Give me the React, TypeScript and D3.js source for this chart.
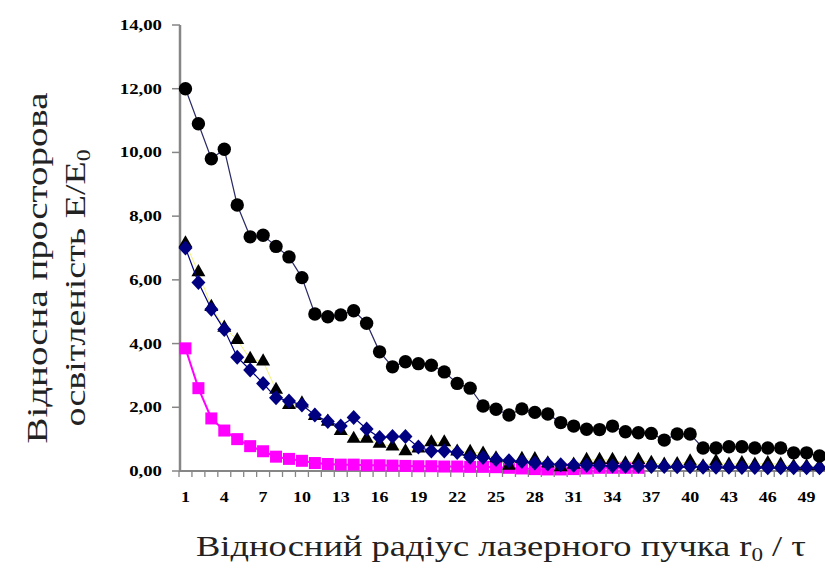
import * as d3 from 'd3';
import { useEffect, useRef } from 'react';

const categories = d3.range(1, 51);

const circles = [
  12.0, 10.9, 9.8, 10.1, 8.35, 7.35, 7.4, 7.05, 6.72, 6.07,
  4.93, 4.84, 4.9, 5.03, 4.64, 3.74, 3.27, 3.43, 3.37, 3.32,
  3.11, 2.75, 2.6, 2.04, 1.94, 1.76, 1.95, 1.84, 1.79, 1.52,
  1.41, 1.31, 1.3, 1.41, 1.23, 1.2, 1.18, 0.97, 1.16, 1.16,
  0.72, 0.72, 0.76, 0.76, 0.72, 0.72, 0.72, 0.57, 0.57, 0.47,
];

const diamonds = [
  7.0, 5.92, 5.08, 4.44, 3.57, 3.17, 2.75, 2.3, 2.2, 2.07,
  1.76, 1.55, 1.41, 1.68, 1.32, 1.05, 1.08, 1.08, 0.75, 0.63,
  0.63, 0.58, 0.43, 0.42, 0.36, 0.32, 0.3, 0.25, 0.22, 0.2,
  0.18, 0.18, 0.17, 0.16, 0.15, 0.15, 0.14, 0.14, 0.13, 0.13,
  0.12, 0.12, 0.12, 0.11, 0.11, 0.1, 0.1, 0.1, 0.1, 0.1,
];

const triangles = [
  7.15, 6.24, 5.15, 4.5, 4.11, 3.52, 3.44, 2.55, 2.07, 2.12,
  1.73, 1.55, 1.26, 1.01, 1.01, 0.86, 0.77, 0.62, 0.71, 0.9,
  0.9, 0.61, 0.6, 0.55, 0.4, 0.17, 0.38, 0.37, 0.24, 0.12,
  0.2, 0.35, 0.35, 0.35, 0.24, 0.35, 0.26, 0.2, 0.22, 0.3,
  0.15, 0.3, 0.2, 0.25, 0.2, 0.25, 0.2, 0.15, 0.15, 0.15,
];

const squares = [
  3.85, 2.6, 1.65, 1.27, 1.0, 0.78, 0.62, 0.45, 0.38, 0.32,
  0.25, 0.22, 0.2, 0.2, 0.18, 0.18, 0.17, 0.16, 0.15, 0.15,
  0.14, 0.14, 0.13, 0.13, 0.12, 0.1, 0.08, 0.06, 0.05, 0.05,
  0.06, 0.08, 0.1, 0.1, 0.1, 0.1,
];

const yTicks = [0, 2, 4, 6, 8, 10, 12, 14];
const xLabels = d3.range(1, 51, 3);

const W = 825;
const H = 570;

export default function App() {
  const svgRef = useRef<SVGSVGElement>(null);

  useEffect(() => {
    const svg = d3.select(svgRef.current);
    svg.selectAll('*').remove();

    const x = d3.scaleBand<number>().domain(categories).range([179, 826]).padding(0);
    const y = d3.scaleLinear().domain([0, 14]).range([471, 25]);
    const cx = (i: number) => (x(categories[i]) ?? 0) + x.bandwidth() / 2;

    const font = "'Liberation Serif', 'Times New Roman', serif";

    // axes
    const axisColor = '#868686';
    svg.append('line')
      .attr('x1', 180).attr('x2', 180).attr('y1', y(14)).attr('y2', y(0) + 1)
      .attr('stroke', axisColor).attr('stroke-width', 2.5);
    svg.append('line')
      .attr('x1', 179).attr('x2', W).attr('y1', y(0)).attr('y2', y(0))
      .attr('stroke', axisColor).attr('stroke-width', 2);

    yTicks.forEach((t) => {
      svg.append('line')
        .attr('x1', 172).attr('x2', 180).attr('y1', y(t)).attr('y2', y(t))
        .attr('stroke', axisColor).attr('stroke-width', 1.5);
      svg.append('text')
        .attr('transform', `translate(162,${y(t) + 5}) scale(1.25,1)`)
        .attr('text-anchor', 'end')
        .attr('font-family', font)
        .attr('font-weight', 'bold')
        .attr('font-size', 15)
        .attr('fill', '#000')
        .text(d3.format('.2f')(t).replace('.', ','));
    });

    categories.forEach((c) => {
      const bx = x(c) ?? 0;
      svg.append('line')
        .attr('x1', bx).attr('x2', bx).attr('y1', y(0)).attr('y2', y(0) + 6)
        .attr('stroke', axisColor).attr('stroke-width', 1.3);
    });

    xLabels.forEach((c) => {
      svg.append('text')
        .attr('transform', `translate(${cx(c - 1)},${y(0) + 31}) scale(1.2,1)`)
        .attr('text-anchor', 'middle')
        .attr('font-family', font)
        .attr('font-weight', 'bold')
        .attr('font-size', 15)
        .attr('fill', '#000')
        .text(c);
    });

    const line = d3.line<number>().x((_, i) => cx(i)).y((d) => y(d));

    // magenta squares
    svg.append('path').attr('d', line(squares)).attr('fill', 'none')
      .attr('stroke', '#ff00ff').attr('stroke-width', 2);
    svg.append('g').selectAll('rect').data(squares).join('rect')
      .attr('x', (_, i) => cx(i) - 6).attr('y', (d) => y(d) - 6)
      .attr('width', 12).attr('height', 12).attr('fill', '#ff00ff');

    // triangles
    svg.append('path').attr('d', line(triangles)).attr('fill', 'none')
      .attr('stroke', '#f2f27a').attr('stroke-width', 1);
    svg.append('g').selectAll('path').data(triangles).join('path')
      .attr('d', d3.symbol(d3.symbolTriangle, 85)())
      .attr('transform', (d, i) => `translate(${cx(i)},${y(d)})`)
      .attr('fill', '#000');

    // diamonds
    svg.append('path').attr('d', line(diamonds)).attr('fill', 'none')
      .attr('stroke', '#000080').attr('stroke-width', 1.2);
    svg.append('g').selectAll('path').data(diamonds).join('path')
      .attr('d', 'M0,-7.5L7,0L0,7.5L-7,0Z')
      .attr('transform', (d, i) => `translate(${cx(i)},${y(d)})`)
      .attr('fill', '#000080');

    // circles
    svg.append('path').attr('d', line(circles)).attr('fill', 'none')
      .attr('stroke', '#2a2a66').attr('stroke-width', 1.2);
    svg.append('g').selectAll('circle').data(circles).join('circle')
      .attr('cx', (_, i) => cx(i)).attr('cy', (d) => y(d)).attr('r', 6.7)
      .attr('fill', '#000');

    // titles
    const t1 = svg.append('text')
      .attr('transform', 'translate(47,268) rotate(-90)')
      .attr('text-anchor', 'middle')
      .attr('font-family', font).attr('font-size', 29).attr('fill', '#222')
      .attr('textLength', 351).attr('lengthAdjust', 'spacingAndGlyphs');
    t1.text('Відносна просторова');

    const t2 = svg.append('text')
      .attr('transform', 'translate(85,288) rotate(-90)')
      .attr('text-anchor', 'middle')
      .attr('font-family', font).attr('font-size', 29).attr('fill', '#222')
      .attr('textLength', 277).attr('lengthAdjust', 'spacingAndGlyphs');
    t2.append('tspan').text('освітленість E/E');
    t2.append('tspan').attr('font-size', 18).attr('dy', 5).text('0');

    const t3 = svg.append('text')
      .attr('x', 501).attr('y', 556)
      .attr('text-anchor', 'middle')
      .attr('font-family', font).attr('font-size', 30).attr('fill', '#222')
      .attr('textLength', 610).attr('lengthAdjust', 'spacingAndGlyphs');
    t3.append('tspan').text('Відносний радіус лазерного пучка r');
    t3.append('tspan').attr('font-size', 19).attr('dy', 5).text('0');
    t3.append('tspan').attr('dy', -5).text(' / τ');
  }, []);

  return (
    <div style={{ position: 'absolute', left: 0, top: 0, width: W, height: H, background: '#fff' }}>
      <svg ref={svgRef} width={W} height={H} style={{ display: 'block' }} />
    </div>
  );
}
